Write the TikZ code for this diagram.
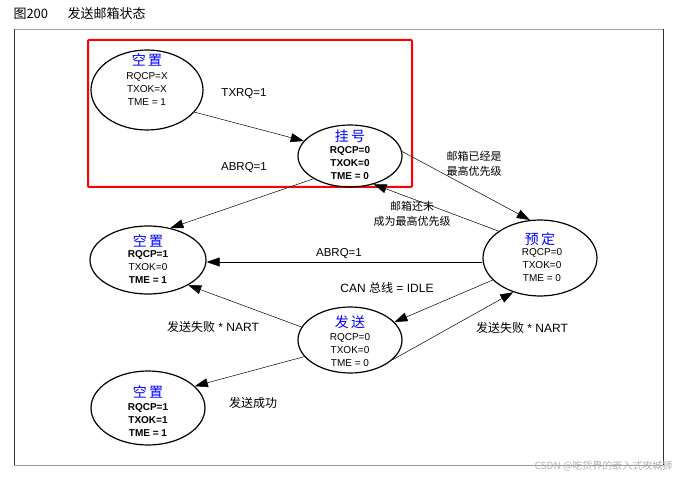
\documentclass[tikz,border=0pt]{standalone}
\usepackage{fontspec}
\setmainfont{Liberation Sans}
\newfontfamily\cjk{Noto Sans CJK SC}
\usetikzlibrary{arrows.meta,shapes.geometric}
\begin{document}
\begin{tikzpicture}[x=1pt,y=-1pt,
 st/.style={draw,line width=1.2pt,ellipse,minimum width=#1},
 ar/.style={-{Triangle[length=13pt,width=9pt]},line width=0.5pt},
 lb/.style={font=\fontsize{10}{13}\selectfont,align=center},
 lbb/.style={font=\bfseries\fontsize{10}{13}\selectfont,align=center},
 el/.style={font=\fontsize{11.5}{12}\selectfont},
 cl/.style={font=\cjk\fontsize{11}{15}\selectfont,align=center},
 ttl/.style={font=\cjk\fontsize{14}{14}\selectfont,text=blue}]
\useasboundingbox (0,0) rectangle (679,478);
\node[anchor=west,font=\cjk\fontsize{13}{13}\selectfont] (t) at (10,14) {图200\hspace{1.5em}发送邮箱状态};
\draw[gray!70,line width=0.8pt] (14,29) -- (663,29);
\draw[black!80,line width=0.6pt] (14,29) -- (14,465) (663,29) -- (663,465);
\draw[gray!80,line width=0.8pt] (14,465) -- (663,465);
\draw[red,line width=2pt,rounded corners=1pt] (88,40) rectangle (412,187);
% states
\node[st,minimum width=112pt,minimum height=80pt] (e1) at (147,90) {};
\node[ttl] at (147,60) {空\,置};
\node[lb] at (147,89) {RQCP=X\\TXOK=X\\TME = 1};
\node[st,minimum width=104pt,minimum height=62pt] (e2) at (350,156) {};
\node[ttl] at (350,136) {挂\,号};
\node[lbb] at (350,163) {RQCP=0\\TXOK=0\\TME = 0};
\node[st,minimum width=116pt,minimum height=68pt] (e3) at (148,260) {};
\node[ttl] at (148,241) {空\,置};
\node[lb] at (148,267) {\textbf{RQCP=1}\\TXOK=0\\\textbf{TME = 1}};
\node[st,minimum width=114pt,minimum height=76pt] (e4) at (540,258) {};
\node[ttl] at (540,239) {预\,定};
\node[lb] at (542,265) {RQCP=0\\TXOK=0\\TME = 0};
\node[st,minimum width=104pt,minimum height=66pt] (e5) at (350,340) {};
\node[ttl] at (350,322) {发\,送};
\node[lb] at (350,350) {RQCP=0\\TXOK=0\\TME = 0};
\node[st,minimum width=114pt,minimum height=74pt] (e6) at (148,408) {};
\node[ttl] at (148,392) {空\,置};
\node[lbb] at (148,420) {RQCP=1\\TXOK=1\\TME = 1};
% arrows
\draw[ar] (e1.-25) -- (e2.162);
\node[el] at (244,94) {TXRQ=1};
\draw[ar] (e2.-148) -- (e3.55);
\node[el] at (244,168) {ABRQ=1};
\draw[ar] (e2.5) -- (e4.105);
\node[cl] at (474,164) {邮箱已经是\\最高优先级};
\draw[ar] (e4.147) -- (e2.-50);
\node[cl] at (412,214) {邮箱还未\\成为最高优先级};
\draw[ar] (e4.west|-0,262) -- (e3.east|-0,262) node[pos=0.52,above,el] {ABRQ=1};
\draw[ar] (e4.-155) -- (e5.22);
\node[font=\fontsize{12}{12}\selectfont] at (387,288) {CAN {\cjk 总线} = IDLE};
\draw[ar] (e5.-25) -- (e4.-128);
\node[font=\fontsize{12}{12}\selectfont] at (522,328) {{\cjk 发送失败} * NART};
\draw[ar] (e5.165) -- (e3.-32);
\node[font=\fontsize{12}{12}\selectfont] at (213,327) {{\cjk 发送失败} * NART};
\draw[ar] (e5.-160) -- (e6.25);
\node[font=\cjk\fontsize{12}{12}\selectfont] at (253,403) {发送成功};
\node[anchor=east,font=\cjk\fontsize{10}{10}\selectfont,text=gray!60] (wm) at (676,466) {CSDN @吃货界的嵌入式攻城狮};
\end{tikzpicture}
\end{document}
